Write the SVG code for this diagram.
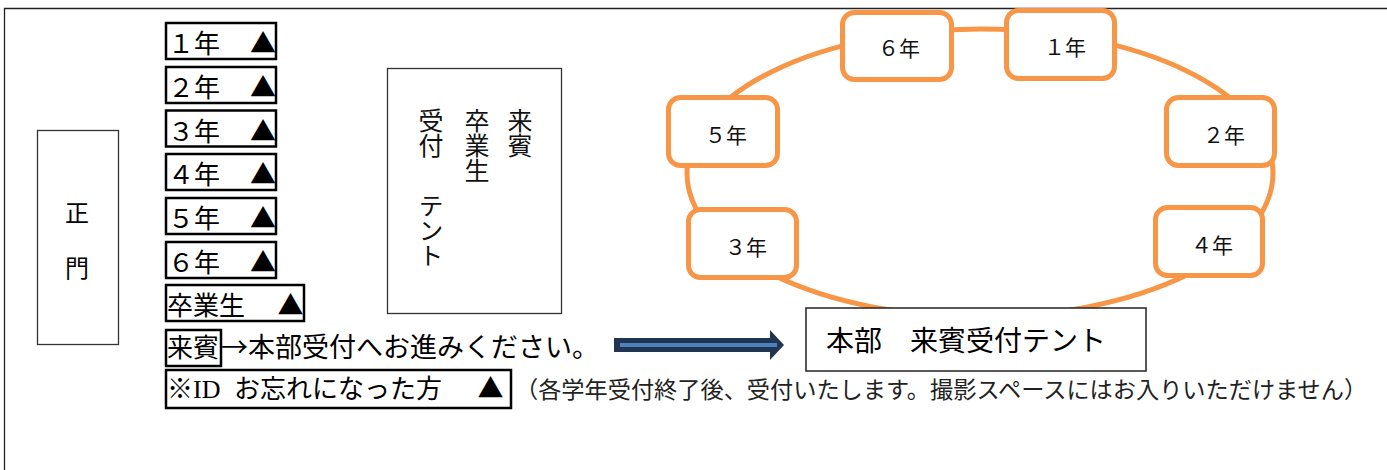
<svg xmlns="http://www.w3.org/2000/svg" width="1387" height="470" viewBox="0 0 1387 470">
<style>
.frame{fill:none;stroke:#222;stroke-width:1.3}
.kbox{fill:#fff;stroke:#000;stroke-width:2.5}
.tbox{fill:#fff;stroke:#333;stroke-width:1.3}
.obox{fill:#fff;stroke:#F79646;stroke-width:5}
.ring{fill:none;stroke:#F79646;stroke-width:5}
.m{font-family:"Liberation Serif","Noto Sans CJK JP",serif;fill:#000;font-size:26px}
.g{font-family:"Noto Sans CJK JP",sans-serif}
.tri{font-family:"Noto Sans CJK JP",sans-serif}
.o{font-family:"Liberation Serif","Noto Sans CJK JP",serif;fill:#111;font-size:21px}
.v{font-family:"Noto Sans CJK JP",sans-serif;fill:#111;font-size:25px;writing-mode:vertical-rl}
</style>
<rect width="1387" height="470" fill="#fff"/>
<path class="frame" d="M4.5 470 V8.5 H1387"/>

<g id="seimon">
<rect class="tbox" x="37.5" y="130.5" width="81" height="214"/>
<text class="m" x="77" y="222" text-anchor="middle" style="font-size:24px">正</text>
<text class="m" x="77" y="277" text-anchor="middle" style="font-size:24px">門</text>
</g>

<g id="list-g1"><rect class="kbox" x="166" y="23" width="110" height="36"/><text class="m" y="53"><tspan x="168">１年</tspan><tspan class="tri" x="250">▲</tspan></text></g>
<g id="list-g2"><rect class="kbox" x="166" y="67" width="110" height="36"/><text class="m" y="97"><tspan x="168">２年</tspan><tspan class="tri" x="250">▲</tspan></text></g>
<g id="list-g3"><rect class="kbox" x="166" y="110.5" width="110" height="36"/><text class="m" y="140.5"><tspan x="168">３年</tspan><tspan class="tri" x="250">▲</tspan></text></g>
<g id="list-g4"><rect class="kbox" x="166" y="154" width="110" height="36"/><text class="m" y="184"><tspan x="168">４年</tspan><tspan class="tri" x="250">▲</tspan></text></g>
<g id="list-g5"><rect class="kbox" x="166" y="198" width="110" height="36"/><text class="m" y="228"><tspan x="168">５年</tspan><tspan class="tri" x="250">▲</tspan></text></g>
<g id="list-g6"><rect class="kbox" x="166" y="242" width="110" height="36"/><text class="m" y="272"><tspan x="168">６年</tspan><tspan class="tri" x="250">▲</tspan></text></g>
<g id="list-grad"><rect class="kbox" x="166" y="285" width="138" height="36"/><text class="m" y="315"><tspan x="167">卒業生</tspan><tspan class="tri" x="277.5">▲</tspan></text></g>
<g id="list-guest">
<rect class="kbox" x="166" y="330" width="55" height="36"/>
<text class="m" y="357" style="font-size:27px"><tspan x="167" style="font-size:26px">来賓</tspan><tspan class="g" x="221">→本部受付へお進みください。</tspan></text>
</g>
<g id="list-id">
<rect class="kbox" x="166" y="370" width="345" height="38"/>
<text class="m" y="398"><tspan x="167">※ID</tspan><tspan x="234">お忘れになった方</tspan><tspan class="tri" x="477.5">▲</tspan></text>
<text class="m" x="515" y="398" style="font-size:23.2px;fill:#222">（各学年受付終了後、受付いたします。撮影スペースにはお入りいただけません）</text>
</g>

<g id="tent-grad">
<rect class="tbox" x="387.5" y="68.5" width="174" height="245"/>
<text class="v" x="520" y="108">来賓</text>
<text class="v" x="477" y="108">卒業生</text>
<text class="v" x="431" y="108"><tspan>受付</tspan><tspan y="193">テント</tspan></text>
</g>

<g id="ring"><ellipse class="ring" cx="980" cy="173" rx="293" ry="144"/></g>

<g id="ring-g6"><rect class="obox" x="842.5" y="12.5" width="109" height="67" rx="12"/><text class="o" x="878" y="56">６年</text></g>
<g id="ring-g1"><rect class="obox" x="1006.5" y="10.5" width="108" height="68" rx="12"/><text class="o" x="1044" y="55">１年</text></g>
<g id="ring-g5"><rect class="obox" x="668.5" y="97.5" width="109" height="68" rx="12"/><text class="o" x="705" y="143">５年</text></g>
<g id="ring-g2"><rect class="obox" x="1166.5" y="97.5" width="108" height="68" rx="12"/><text class="o" x="1203" y="143">２年</text></g>
<g id="ring-g3"><rect class="obox" x="688.5" y="209.5" width="108" height="68" rx="12"/><text class="o" x="725" y="255">３年</text></g>
<g id="ring-g4"><rect class="obox" x="1155.5" y="207.5" width="107" height="68" rx="12"/><text class="o" x="1191" y="253">４年</text></g>

<g id="honbu">
<rect x="806" y="308" width="340" height="63" fill="#fff" stroke="#222" stroke-width="1.5"/>
<text class="g" x="826" y="351" style="font-size:28px;fill:#000">本部　来賓受付テント</text>
</g>

<g id="connectors">
<path d="M614 338 H770 V330 L784 345 L770 360 V352 H614 Z" fill="#1F3552"/>
<line x1="620" y1="345" x2="777" y2="345" stroke="#4F81BD" stroke-width="4"/>
</g>
</svg>
